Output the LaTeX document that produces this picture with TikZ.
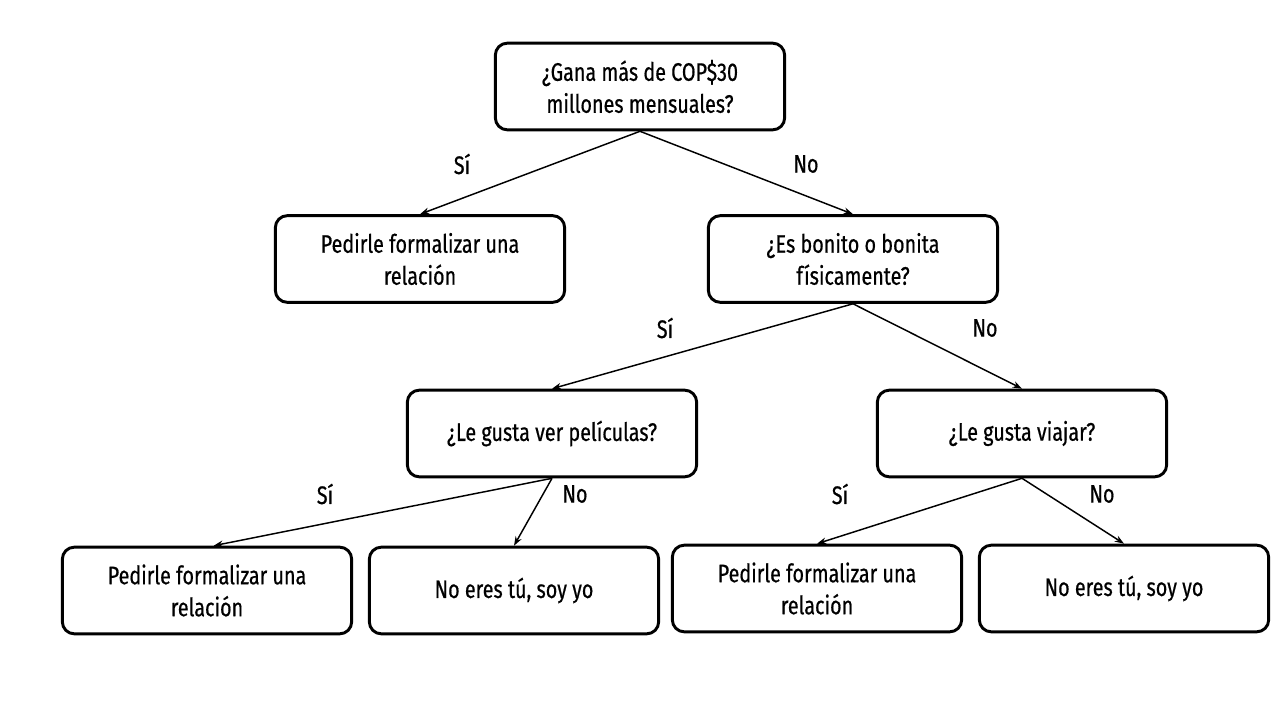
\documentclass[tikz,border=0pt]{standalone}
\usepackage{fontspec}
\setmainfont[FakeStretch=0.78, FakeBold=0.6]{Fira Sans}
\usetikzlibrary{arrows.meta}

\begin{document}
\begin{tikzpicture}[
      x=0.75pt, y=-0.75pt,
      font=\fontsize{19}{24}\selectfont,
      qbox/.style = {
          draw,
          line width=2.2pt,
          rounded corners=9pt,
          minimum width=217pt,
          minimum height=65pt,
          align=center,
        },
      link/.style = {
          line width=1.1pt,
          -{Stealth[length=7pt, width=5pt]},
        },
      tag/.style = {
          inner sep=0pt,
        },
    ]

    \useasboundingbox (0,0) rectangle (1280,720);

    \node[qbox](root) at (640,86.5) {¿Gana más de COP\$30\\millones mensuales?};

    \node[qbox](yes1) at (420,259) {Pedirle formalizar una\\relación};
    \node[qbox](looks) at (853,259) {¿Es bonito o bonita\\físicamente?};

    \node[qbox](movies) at (552,433.5) {¿Le gusta ver películas?};
    \node[qbox](travel) at (1022,433.5) {¿Le gusta viajar?};

    \node[qbox](yes2) at (207,590.5) {Pedirle formalizar una\\relación};
    \node[qbox](no2) at (514,590.5) {No eres tú, soy yo};
    \node[qbox](yes3) at (817,588.5) {Pedirle formalizar una\\relación};
    \node[qbox](no3) at (1124,588.5) {No eres tú, soy yo};

    \draw[link](root.south) -- (yes1.north);
    \draw[link](root.south) -- (looks.north);
    \draw[link](looks.south) -- (movies.north);
    \draw[link](looks.south) -- (travel.north);
    \draw[link](movies.south) -- ([xshift=5pt]yes2.north);
    \draw[link](movies.south) -- (no2.north);
    \draw[link](travel.south) -- (yes3.north);
    \draw[link](travel.south) -- (no3.north);

    \node[tag](si1) at (462,164) {Sí};
    \node[tag](no1) at (806,164) {No};
    \node[tag](si2) at (665,328) {Sí};
    \node[tag](no4) at (985,328) {No};
    \node[tag](si3) at (325,494) {Sí};
    \node[tag](no5) at (575,494) {No};
    \node[tag](si4) at (840,494) {Sí};
    \node[tag](no6) at (1102,494) {No};

  \end{tikzpicture}
\end{document}
